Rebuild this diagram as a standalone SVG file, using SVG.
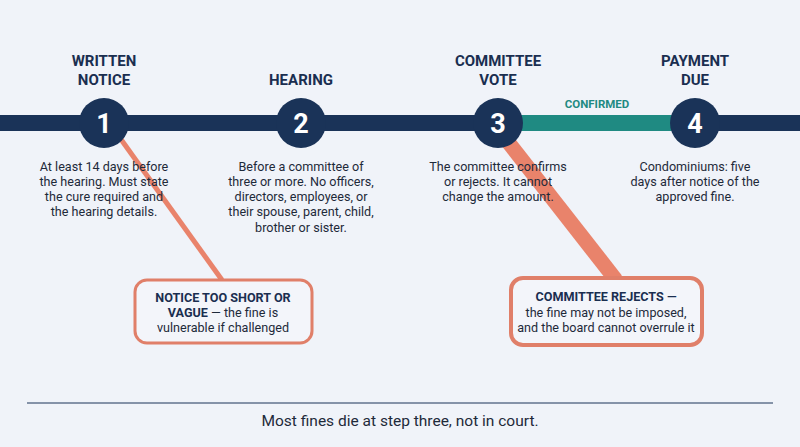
<svg xmlns="http://www.w3.org/2000/svg" width="800" height="447" viewBox="0 0 800 447">
<style>
.t{font-family:Roboto,"Liberation Sans",sans-serif;font-weight:700;font-size:15px;fill:#1a2e50;text-anchor:middle}
.d{font-family:Roboto,"Liberation Sans",sans-serif;font-size:12.6px;fill:#1e2a3a;text-anchor:middle}
.n{font-family:Roboto,"Liberation Sans",sans-serif;font-weight:700;font-size:27px;fill:#fff;text-anchor:middle}
.c{fill:#1a3358}
.box{fill:#f3f5fa;stroke:#e07f69;rx:12}
.b{font-weight:700;fill:#1a2e50}
</style>
<rect width="800" height="447" fill="#f0f3f9"/>
<g id="connectors">
<line x1="0" y1="123" x2="800" y2="123" stroke="#1a3358" stroke-width="16"/>
<line x1="498" y1="123" x2="695" y2="123" stroke="#1f8a82" stroke-width="16"/>
<text x="597" y="108" class="t" style="font-size:11.5px;fill:#1f8a82">CONFIRMED</text>
<line x1="120" y1="138" x2="222" y2="280" stroke="#e9836b" stroke-width="5"/>
<line x1="505" y1="138" x2="616" y2="280" stroke="#e9836b" stroke-width="15"/>
</g>
<g id="step1">
<text x="104" y="66" class="t">WRITTEN</text><text x="104" y="85" class="t">NOTICE</text>
<circle cx="104" cy="123" r="25" class="c"/><text x="104" y="133" class="n">1</text>
<text class="d"><tspan x="104" y="171">At least 14 days before</tspan><tspan x="104" y="186">the hearing. Must state</tspan><tspan x="104" y="201">the cure required and</tspan><tspan x="104" y="216">the hearing details.</tspan></text>
</g>
<g id="step2">
<text x="301" y="85" class="t">HEARING</text>
<circle cx="301" cy="123" r="25" class="c"/><text x="301" y="133" class="n">2</text>
<text class="d"><tspan x="301" y="171">Before a committee of</tspan><tspan x="301" y="186">three or more. No officers,</tspan><tspan x="301" y="201">directors, employees, or</tspan><tspan x="301" y="216">their spouse, parent, child,</tspan><tspan x="301" y="232">brother or sister.</tspan></text>
</g>
<g id="step3">
<text x="498" y="66" class="t">COMMITTEE</text><text x="498" y="85" class="t">VOTE</text>
<circle cx="498" cy="123" r="25" class="c"/><text x="498" y="133" class="n">3</text>
<text class="d"><tspan x="498" y="171">The committee confirms</tspan><tspan x="498" y="186">or rejects. It cannot</tspan><tspan x="498" y="201">change the amount.</tspan></text>
</g>
<g id="step4">
<text x="695" y="66" class="t">PAYMENT</text><text x="695" y="85" class="t">DUE</text>
<circle cx="695" cy="123" r="25" class="c"/><text x="695" y="133" class="n">4</text>
<text class="d"><tspan x="695" y="171">Condominiums: five</tspan><tspan x="695" y="186">days after notice of the</tspan><tspan x="695" y="201">approved fine.</tspan></text>
</g>
<g id="risk1">
<rect x="135" y="280" width="177" height="63" class="box" stroke-width="3"/>
<text class="d"><tspan x="223" y="302" class="b">NOTICE TOO SHORT OR</tspan><tspan x="223" y="317"><tspan class="b">VAGUE</tspan> — the fine is</tspan><tspan x="223" y="332">vulnerable if challenged</tspan></text>
</g>
<g id="risk3">
<rect x="511" y="278" width="191" height="67" class="box" stroke-width="4"/>
<text class="d"><tspan x="606" y="301" class="b">COMMITTEE REJECTS —</tspan><tspan x="606" y="317">the fine may not be imposed,</tspan><tspan x="606" y="332">and the board cannot overrule it</tspan></text>
</g>
<line x1="27" y1="403" x2="773" y2="403" stroke="#1a3358" stroke-width="1"/>
<text x="400" y="426" style="font-family:Roboto,'Liberation Sans',sans-serif;font-size:15.5px;fill:#1e2a3a;text-anchor:middle">Most fines die at step three, not in court.</text>
</svg>
